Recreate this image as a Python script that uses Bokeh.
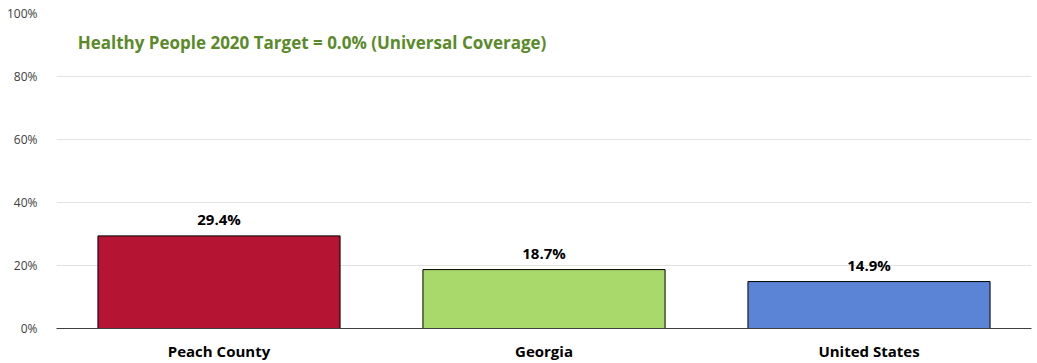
from bokeh.plotting import figure
from bokeh.models import ColumnDataSource, FactorRange, Range1d, LabelSet, Label, FixedTicker
from bokeh.core.properties import value
from bokeh.embed import file_html
from bokeh.resources import INLINE

categories = ["Peach County", "Georgia", "United States"]
values = [29.4, 18.7, 14.9]
colors = ["#b51433", "#a8d96a", "#5b84d6"]
labels = ["29.4%", "18.7%", "14.9%"]
y_ticks = [0, 20, 40, 60, 80, 100]
title_text = "Healthy People 2020 Target = 0.0% (Universal Coverage)"

FONT = "Open Sans"

src = ColumnDataSource(dict(cat=categories, val=values, color=colors, lab=labels))

p = figure(x_range=FactorRange(*categories, range_padding=0), y_range=Range1d(0, 100),
           width=1034, height=363, output_backend="svg", toolbar_location=None,
           min_border_left=56, min_border_right=3, min_border_top=13, min_border_bottom=35)
p.outline_line_color = None
p.background_fill_color = "white"

p.vbar(x="cat", top="val", width=0.745, source=src, fill_color="color",
       line_color="black", line_width=1)

p.add_layout(LabelSet(x="cat", y="val", text="lab", source=src, y_offset=17,
                      text_align="center", text_baseline="middle",
                      text_font=value(FONT), text_font_style="bold", text_font_size="15px",
                      text_color="black"))

p.add_layout(Label(x=0.065, y=90.8, text=title_text, text_font=FONT,
                   text_font_style="bold", text_font_size="17px", text_color="#5b8a2a",
                   text_baseline="middle", text_align="left"))

p.yaxis.ticker = FixedTicker(ticks=y_ticks)
p.yaxis.major_label_overrides = {t: f"{t}%" for t in y_ticks}
p.yaxis.axis_line_color = None
p.yaxis.major_tick_line_color = None
p.yaxis.minor_tick_line_color = None
p.yaxis.major_label_text_font = FONT
p.yaxis.major_label_text_font_size = "12px"
p.yaxis.major_label_text_color = "#404040"
p.yaxis.major_label_standoff = 13

p.xaxis.axis_line_color = "#404040"
p.xaxis.axis_line_width = 1
p.xaxis.major_tick_line_color = None
p.xaxis.minor_tick_line_color = None
p.xaxis.major_label_text_font = FONT
p.xaxis.major_label_text_font_style = "bold"
p.xaxis.major_label_text_font_size = "15px"
p.xaxis.major_label_text_color = "black"
p.xaxis.major_label_standoff = 6

p.xgrid.grid_line_color = None
p.ygrid.grid_line_color = "#e3e3e3"
p.ygrid.grid_line_width = 1

open("out.html", "w").write(file_html(p, INLINE))
